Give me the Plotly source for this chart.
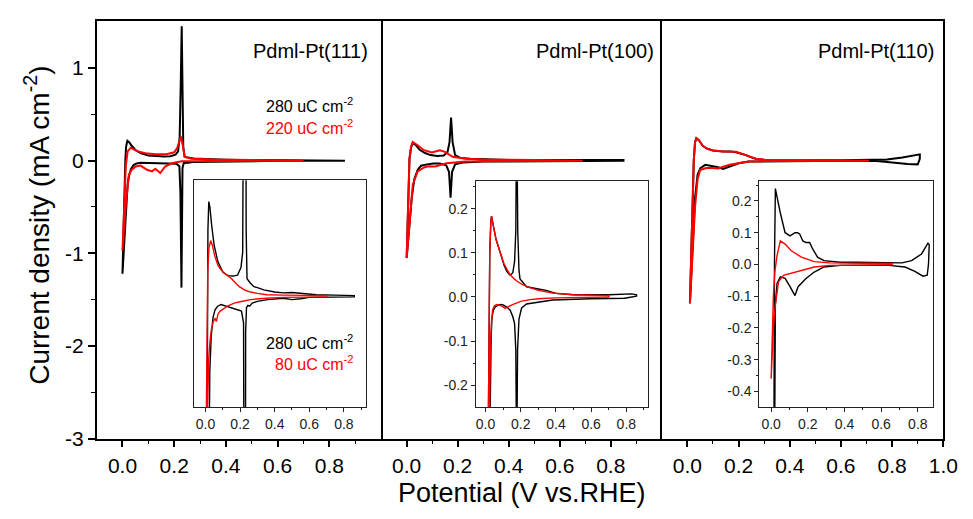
import plotly.graph_objects as go

# ---------------- data ----------------
# Panel Pt(111) main: black 280 uC (also shown in inset), red 220 uC
p111_black_x = [0.000, 0.004, 0.008, 0.011, 0.014, 0.019, 0.026, 0.034, 0.050, 0.072, 0.100, 0.130, 0.160, 0.185,
                0.205, 0.215, 0.221, 0.225, 0.229, 0.232, 0.235, 0.240, 0.260, 0.280, 0.300, 0.337, 0.400, 0.450,
                0.500, 0.550, 0.640, 0.750, 0.860,
                0.860, 0.750, 0.600, 0.550, 0.500, 0.450, 0.360, 0.300, 0.270, 0.255, 0.245, 0.237, 0.232, 0.228,
                0.224, 0.220, 0.208, 0.170, 0.130, 0.090, 0.070, 0.055, 0.043, 0.033, 0.025, 0.020, 0.012, 0.005, 0.000]
p111_black_y = [-1.22, -0.70, -0.25, 0.00, 0.15, 0.214, 0.20, 0.166, 0.115, 0.078, 0.055, 0.047, 0.046, 0.048,
                0.065, 0.10, 0.25, 0.80, 1.45, 0.80, 0.15, 0.04, 0.03, 0.022, 0.02, 0.015, 0.01, 0.008,
                0.009, 0.007, 0.004, 0.003, 0.002,
                -0.001, -0.001, -0.002, -0.005, -0.007, -0.004, -0.007, -0.011, -0.015, -0.022, -0.020, -0.025, -0.08, -1.37,
                -0.35, -0.06, -0.033, -0.028, -0.022, -0.018, -0.022, -0.030, -0.048, -0.09, -0.166, -0.25, -0.60, -1.00, -1.22]
p111_red_x = [0.000, 0.006, 0.013, 0.020, 0.032, 0.045, 0.060, 0.089, 0.127, 0.170, 0.200, 0.212, 0.220, 0.226,
              0.232, 0.241, 0.267, 0.350, 0.500, 0.700,
              0.700, 0.500, 0.350, 0.241, 0.229, 0.190, 0.165, 0.146, 0.127, 0.114, 0.095, 0.070, 0.051, 0.035,
              0.025, 0.013, 0.005, 0.000]
p111_red_y = [-0.97, -0.50, -0.05, 0.10, 0.14, 0.12, 0.10, 0.08, 0.07, 0.07, 0.09, 0.14, 0.20, 0.26,
              0.18, 0.04, 0.02, 0.012, 0.008, 0.006,
              -0.001, -0.002, -0.003, -0.004, -0.006, -0.028, -0.063, -0.134, -0.088, -0.116, -0.098, -0.053, -0.063, -0.10,
              -0.15, -0.47, -0.80, -0.97]
# Pt(111) inset red: 80 uC
p111_inset_red_x = [0.000, 0.004, 0.008, 0.013, 0.020, 0.030, 0.040, 0.053, 0.072, 0.090, 0.110, 0.148, 0.170,
                    0.195, 0.230, 0.260, 0.300, 0.355, 0.450, 0.550, 0.700,
                    0.700, 0.550, 0.450, 0.350, 0.260, 0.200, 0.166, 0.130, 0.110, 0.085, 0.072, 0.063, 0.055,
                    0.045, 0.034, 0.026, 0.019, 0.012, 0.008, 0.004, 0.000]
p111_inset_red_y = [-0.45, -0.25, -0.05, 0.06, 0.11, 0.126, 0.115, 0.092, 0.07, 0.06, 0.052, 0.041, 0.032,
                    0.022, 0.014, 0.010, 0.007, 0.004, 0.003, 0.002, 0.002,
                    -0.001, -0.001, -0.002, -0.004, -0.007, -0.012, -0.015, -0.021, -0.026, -0.033, -0.040, -0.056, -0.050,
                    -0.056, -0.075, -0.10, -0.137, -0.20, -0.25, -0.35, -0.45]

# Panel Pt(100) main
p100_black_x = [0.000, 0.005, 0.011, 0.018, 0.024, 0.035, 0.050, 0.070, 0.093, 0.120, 0.145, 0.160, 0.168, 0.174,
                0.180, 0.190, 0.210, 0.250, 0.300, 0.400, 0.600, 0.850,
                0.850, 0.600, 0.400, 0.300, 0.220, 0.190, 0.178, 0.172, 0.166, 0.155, 0.130, 0.105, 0.080, 0.056,
                0.043, 0.030, 0.020, 0.010, 0.000]
p100_black_y = [-1.05, -0.43, 0.02, 0.15, 0.19, 0.17, 0.12, 0.085, 0.06, 0.05, 0.055, 0.09, 0.20, 0.465,
                0.20, 0.06, 0.03, 0.02, 0.015, 0.008, 0.006, 0.008,
                -0.002, -0.003, -0.006, -0.010, -0.020, -0.040, -0.12, -0.40, -0.12, -0.05, -0.03, -0.03, -0.04, -0.055,
                -0.10, -0.20, -0.40, -0.75, -1.05]
p100_red_x = [0.000, 0.005, 0.011, 0.017, 0.024, 0.043, 0.068, 0.099, 0.118, 0.130, 0.150, 0.180, 0.230, 0.300,
              0.500, 0.690,
              0.690, 0.400, 0.230, 0.157, 0.130, 0.115, 0.105, 0.085, 0.068, 0.043, 0.024, 0.011, 0.000]
p100_red_y = [-1.05, -0.43, 0.025, 0.15, 0.20, 0.166, 0.113, 0.089, 0.10, 0.113, 0.095, 0.042, 0.02, 0.012,
              0.006, 0.004,
              -0.001, -0.004, -0.010, -0.028, -0.052, -0.060, -0.063, -0.060, -0.074, -0.116, -0.26, -0.68, -1.05]
# Pt(100) inset
p100_inset_black_x = [0.000, 0.014, 0.019, 0.024, 0.030, 0.034, 0.045, 0.060, 0.084, 0.105, 0.121, 0.140, 0.155,
                      0.165, 0.172, 0.177, 0.183, 0.190, 0.196, 0.233, 0.300, 0.345, 0.400, 0.500, 0.700, 0.830, 0.858,
                      0.858, 0.790, 0.600, 0.382, 0.289, 0.233, 0.205, 0.190, 0.182, 0.177, 0.172, 0.165, 0.155,
                      0.140, 0.121, 0.100, 0.084, 0.070, 0.056, 0.045, 0.037, 0.032, 0.028, 0.024, 0.000]
p100_inset_black_y = [-1.05, -0.25, -0.05, 0.10, 0.17, 0.183, 0.16, 0.13, 0.10, 0.072, 0.058, 0.049, 0.055,
                      0.08, 0.15, 0.45, 0.15, 0.06, 0.041, 0.023, 0.018, 0.015, 0.008, 0.005, 0.005, 0.007, 0.005,
                      0.002, -0.003, -0.004, -0.007, -0.012, -0.016, -0.025, -0.05, -0.12, -0.40, -0.12, -0.06, -0.045,
                      -0.030, -0.023, -0.018, -0.017, -0.019, -0.022, -0.030, -0.045, -0.09, -0.15, -0.25, -1.05]
p100_inset_red_x = [0.000, 0.014, 0.019, 0.024, 0.030, 0.034, 0.045, 0.060, 0.084, 0.105, 0.121, 0.140, 0.160,
                    0.177, 0.210, 0.252, 0.300, 0.382, 0.500, 0.700,
                    0.700, 0.500, 0.400, 0.300, 0.252, 0.200, 0.177, 0.150, 0.130, 0.112, 0.098, 0.084, 0.065,
                    0.050, 0.040, 0.033, 0.027, 0.022, 0.019, 0.000]
p100_inset_red_y = [-1.05, -0.25, -0.05, 0.10, 0.17, 0.183, 0.16, 0.13, 0.10, 0.075, 0.063, 0.050, 0.042,
                    0.036, 0.028, 0.021, 0.015, 0.009, 0.005, 0.003,
                    0.000, -0.001, -0.002, -0.004, -0.006, -0.010, -0.013, -0.018, -0.022, -0.026, -0.022, -0.019, -0.017,
                    -0.020, -0.030, -0.060, -0.12, -0.20, -0.25, -1.05]

# Panel Pt(110) main
p110_black_x = [0.010, 0.015, 0.020, 0.025, 0.030, 0.035, 0.045, 0.060, 0.076, 0.100, 0.140, 0.170, 0.190, 0.210,
                0.229, 0.250, 0.267, 0.300, 0.400, 0.600, 0.720, 0.780, 0.840, 0.908,
                0.908, 0.900, 0.860, 0.800, 0.740, 0.500, 0.300, 0.240, 0.200, 0.140, 0.120, 0.108, 0.085, 0.070,
                0.051, 0.040, 0.030, 0.020, 0.010]
p110_black_y = [-1.54, -1.00, -0.40, 0.00, 0.20, 0.243, 0.22, 0.16, 0.131, 0.11, 0.10, 0.10, 0.09, 0.075,
                0.06, 0.035, 0.02, 0.01, 0.005, 0.005, 0.005, 0.012, 0.035, 0.068,
                0.020, -0.040, -0.035, -0.015, -0.003, -0.003, -0.005, -0.010, -0.028, -0.09, -0.07, -0.063, -0.05, -0.045,
                -0.08, -0.15, -0.40, -1.00, -1.54]
p110_red_x = [0.010, 0.015, 0.020, 0.025, 0.030, 0.035, 0.045, 0.060, 0.076, 0.100, 0.140, 0.190, 0.229, 0.267,
              0.300, 0.500, 0.710,
              0.710, 0.300, 0.240, 0.165, 0.140, 0.120, 0.100, 0.074, 0.050, 0.040, 0.030, 0.020, 0.010]
p110_red_y = [-1.54, -1.00, -0.40, 0.00, 0.20, 0.243, 0.22, 0.16, 0.13, 0.11, 0.10, 0.095, 0.06, 0.02,
              0.01, 0.005, 0.005,
              -0.001, -0.005, -0.010, -0.045, -0.07, -0.085, -0.08, -0.08, -0.10, -0.20, -0.50, -1.00, -1.54]
# Pt(110) inset
p110_inset_black_x = [0.010, 0.014, 0.018, 0.023, 0.035, 0.050, 0.076, 0.103, 0.130, 0.145, 0.156, 0.173, 0.190,
                      0.210, 0.227, 0.253, 0.288, 0.377, 0.465, 0.642, 0.713, 0.766, 0.820, 0.855, 0.862,
                      0.858, 0.851, 0.828, 0.784, 0.730, 0.642, 0.377, 0.288, 0.235, 0.190, 0.147, 0.130, 0.103,
                      0.076, 0.050, 0.032, 0.023, 0.014, 0.010]
p110_inset_black_y = [-1.54, -0.45, 0.00, 0.239, 0.20, 0.162, 0.10, 0.09, 0.10, 0.10, 0.095, 0.074, 0.069,
                      0.069, 0.048, 0.023, 0.012, 0.007, 0.007, 0.005, 0.005, 0.012, 0.033, 0.067, 0.062,
                      0.000, -0.034, -0.037, -0.022, -0.008, -0.003, -0.003, -0.008, -0.024, -0.044, -0.070, -0.098, -0.070,
                      -0.044, -0.039, -0.060, -0.127, -0.45, -1.54]
p110_inset_red_x = [0.000, 0.005, 0.012, 0.020, 0.032, 0.050, 0.076, 0.110, 0.165, 0.235, 0.320, 0.500, 0.660,
                    0.660, 0.500, 0.320, 0.235, 0.165, 0.110, 0.067, 0.040, 0.023, 0.012, 0.005, 0.000]
p110_inset_red_y = [-0.36, -0.23, -0.10, -0.024, 0.028, 0.074, 0.064, 0.043, 0.023, 0.009, 0.005, 0.004, 0.003,
                    -0.001, -0.002, -0.003, -0.008, -0.019, -0.029, -0.034, -0.055, -0.127, -0.20, -0.28, -0.36]

# tick labels
main_x_ticks = [0.0, 0.2, 0.4, 0.6, 0.8]
main_x_ticks_last = [0.0, 0.2, 0.4, 0.6, 0.8, 1.0]
main_y_ticks = [-3, -2, -1, 0, 1]
inset100_y_ticks = [-0.2, -0.1, 0.0, 0.1, 0.2]
inset110_y_ticks = [-0.4, -0.3, -0.2, -0.1, 0.0, 0.1, 0.2]

panel_titles = ["Pdml-Pt(111)", "Pdml-Pt(100)", "Pdml-Pt(110)"]

# ---------------- layout helpers ----------------
W, H = 973, 519
FONT = "Arial, Liberation Sans, sans-serif"


def fx(px):
    return px / W


def fy(py):
    return 1 - py / H


def fmt(v):
    return f"{v:.1f}".replace("\u2212", "-")


fig = go.Figure()


def add(x, y, color, width, n):
    fig.add_trace(go.Scatter(x=x, y=y, mode="lines", line=dict(color=color, width=width),
                             xaxis="x" + ("" if n == 1 else str(n)),
                             yaxis="y" + ("" if n == 1 else str(n)),
                             showlegend=False, hoverinfo="skip"))


BLACK, RED = "#000000", "#ff0000"
add(p111_black_x, p111_black_y, BLACK, 2, 1)
add(p111_red_x, p111_red_y, RED, 2, 1)
add(p100_black_x, p100_black_y, BLACK, 2, 2)
add(p100_red_x, p100_red_y, RED, 2, 2)
add(p110_black_x, p110_black_y, BLACK, 2, 3)
add(p110_red_x, p110_red_y, RED, 2, 3)
add(p111_black_x, p111_black_y, BLACK, 1.4, 4)
add(p111_inset_red_x, p111_inset_red_y, RED, 1.4, 4)
add(p100_inset_black_x, p100_inset_black_y, BLACK, 1.4, 5)
add(p100_inset_red_x, p100_inset_red_y, RED, 1.4, 5)
add(p110_inset_black_x, p110_inset_black_y, BLACK, 1.4, 6)
add(p110_inset_red_x, p110_inset_red_y, RED, 1.4, 6)

main_dom_x = [(90, 379), (379, 664), (664, 950)]
main_dom_y = [fy(440), fy(13)]

common = dict(showline=True, mirror=True, linecolor="black", linewidth=1.6, showgrid=False, zeroline=False)
layout = dict(width=W, height=H, margin=dict(l=0, r=0, t=0, b=0), paper_bgcolor="white", plot_bgcolor="white",
              font=dict(family=FONT, color="black"))

for i, (a, b) in enumerate(main_dom_x, start=1):
    sfx = "" if i == 1 else str(i)
    tv = main_x_ticks_last if i == 3 else main_x_ticks
    layout["xaxis" + sfx] = dict(common, domain=[fx(a), fx(b)], range=[-0.1, 1.0], anchor="y" + sfx,
                                 tickmode="array", tickvals=tv, ticktext=[fmt(v) for v in tv],
                                 ticks="outside", ticklen=7, tickwidth=1.6, tickcolor="black",
                                 tickfont=dict(size=21, family=FONT, color="black"),
                                 minor=dict(tickmode="array", tickvals=[0.1, 0.3, 0.5, 0.7, 0.9],
                                            ticks="outside", ticklen=4, tickwidth=1.4, tickcolor="black"))
    ydict = dict(common, domain=main_dom_y, range=[-3, 1.51], anchor="x" + sfx)
    if i == 1:
        ydict.update(tickmode="array", tickvals=main_y_ticks, ticktext=[str(v) for v in main_y_ticks],
                     ticks="outside", ticklen=7, tickwidth=1.6, tickcolor="black",
                     tickfont=dict(size=21, family=FONT, color="black"),
                     minor=dict(tickmode="array", tickvals=[-2.5, -1.5, -0.5, 0.5],
                                ticks="outside", ticklen=4, tickwidth=1.4, tickcolor="black"))
    elif i == 2:
        # middle panel: its side borders are drawn by the neighbouring panels
        ydict.update(showticklabels=False, ticks="", showline=False)
    else:
        ydict.update(showticklabels=False, ticks="")
    layout["yaxis" + sfx] = ydict

inset_common = dict(showline=True, mirror=True, linecolor="#222", linewidth=1, showgrid=False, zeroline=False)
insets = [
    dict(n=4, x=(189, 364), y=(176, 408), xr=[-0.066, 0.93], yr=[-0.25, 0.262], yt=None),
    dict(n=5, x=(475, 650), y=(177, 408), xr=[-0.056, 0.923], yr=[-0.25, 0.262], yt=inset100_y_ticks),
    dict(n=6, x=(763, 939), y=(177, 408), xr=[-0.065, 0.88], yr=[-0.45, 0.262], yt=inset110_y_ticks),
]
for ins in insets:
    n = str(ins["n"])
    layout["xaxis" + n] = dict(inset_common, domain=[fx(ins["x"][0]), fx(ins["x"][1])], range=ins["xr"],
                               anchor="y" + n, tickmode="array", tickvals=main_x_ticks,
                               ticktext=[fmt(v) for v in main_x_ticks], ticks="outside", ticklen=4,
                               tickcolor="#222", tickfont=dict(size=14, family=FONT, color="#222"),
                               minor=dict(tickmode="array", tickvals=[0.1, 0.3, 0.5, 0.7, 0.9],
                                          ticks="outside", ticklen=2, tickcolor="#222"))
    yd = dict(inset_common, domain=[fy(ins["y"][1]), fy(ins["y"][0])], range=ins["yr"], anchor="x" + n)
    if ins["yt"] is None:
        yd.update(showticklabels=False, ticks="")
    else:
        mv = [round(v + 0.05, 2) for v in ins["yt"]]
        mv = [v for v in mv if ins["yr"][0] < v < ins["yr"][1]]
        yd.update(tickmode="array", tickvals=ins["yt"], ticktext=[fmt(v) for v in ins["yt"]],
                  ticks="outside", ticklen=4, tickcolor="#222",
                  tickfont=dict(size=14, family=FONT, color="#222"),
                  minor=dict(tickmode="array", tickvals=mv, ticks="outside", ticklen=2, tickcolor="#222"))
    layout["yaxis" + n] = yd

fig.update_layout(**layout)

ann = []
for title, xr in zip(panel_titles, [368, 658, 943]):
    ann.append(dict(text=title, x=fx(xr), y=fy(44), xref="paper", yref="paper", xanchor="right", yanchor="middle",
                    showarrow=False, font=dict(size=20, family=FONT, color="black")))
ann += [
    dict(text="280 uC cm<sup>-2</sup>", x=fx(352), y=fy(99), xanchor="right", font=dict(size=16, color="black")),
    dict(text="220 uC cm<sup>-2</sup>", x=fx(352), y=fy(122), xanchor="right", font=dict(size=16, color=RED)),
    dict(text="280 uC cm<sup>-2</sup>", x=fx(352), y=fy(341), xanchor="right", font=dict(size=16, color="black")),
    dict(text="80 uC cm<sup>-2</sup>", x=fx(352), y=fy(363), xanchor="right", font=dict(size=16, color=RED)),
    dict(text="Current density (mA cm<sup>-2</sup>)", x=fx(30), y=fy(222), textangle=-90, xanchor="center",
         font=dict(size=28, color="black")),
    dict(text="Potential (V vs.RHE)", x=fx(522), y=fy(496), xanchor="center", font=dict(size=27, color="black")),
]
for a in ann[3:]:
    a.setdefault("xref", "paper")
    a.setdefault("yref", "paper")
    a.setdefault("yanchor", "middle")
    a.setdefault("showarrow", False)
    a["font"].setdefault("family", FONT)
fig.update_layout(annotations=ann)

fig.write_html("out.html")
